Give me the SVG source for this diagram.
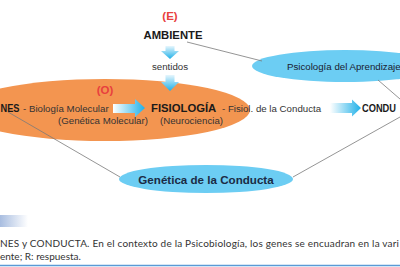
<svg xmlns="http://www.w3.org/2000/svg" width="400" height="267" viewBox="0 0 400 267">
<defs>
<linearGradient id="gd" x1="0" y1="0" x2="0" y2="1">
<stop offset="0" stop-color="#e6f6fd"/>
<stop offset="1" stop-color="#1fb0e8"/>
</linearGradient>
<linearGradient id="gr" x1="0" y1="0" x2="1" y2="0">
<stop offset="0" stop-color="#ffffff"/>
<stop offset="1" stop-color="#1fb0e8"/>
</linearGradient>
<linearGradient id="gbar" x1="0" y1="0" x2="1" y2="0">
<stop offset="0" stop-color="#a8bde0"/>
<stop offset="1" stop-color="#ffffff"/>
</linearGradient>
<style>
text{font-family:"Liberation Sans",Arial,sans-serif;}
.b{font-weight:bold;fill:#1a1a1a;font-size:11.3px;}
.n{fill:#333;font-size:9.7px;}
.red{font-weight:bold;fill:#e8403e;font-size:11.5px;text-anchor:middle;}
.ell{fill:#6ccdf3;}
.cap{font-family:"Lato","Open Sans",sans-serif;fill:#333;font-size:10px;}
.con{stroke:#7a7a7a;stroke-width:0.8;fill:none;}
</style>
</defs>
<rect width="400" height="267" fill="#ffffff"/>

<g id="organismo">
<ellipse cx="105" cy="110" rx="145" ry="31" fill="#f39550"/>
<text class="red" x="105" y="94" font-weight="normal">(O)</text>
</g>

<g id="psicologia">
<ellipse class="ell" cx="345" cy="66" rx="93" ry="16"/>
<text class="n" x="287" y="70" style="fill:#1a2030">Psicología del Aprendizaje</text>
</g>

<g id="genetica">
<ellipse class="ell" cx="206" cy="179" rx="87" ry="14"/>
<text x="206" y="183.5" text-anchor="middle" font-weight="bold" font-size="11.6" fill="#1b2b45">Genética de la Conducta</text>
</g>

<g id="connectors">
<line class="con" x1="187" y1="42" x2="262" y2="61"/>
<line class="con" x1="378" y1="80" x2="400" y2="99"/>
<line class="con" x1="400" y1="117" x2="293" y2="177"/>
<line class="con" x1="8" y1="112" x2="120" y2="177"/>
<path fill="url(#gd)" d="M165.5,46 H174.5 V51 H179 L170,59 L161,51 H165.5 Z"/>
<path fill="url(#gd)" d="M165.5,75 H174.5 V82 H179 L170,91 L161,82 H165.5 Z"/>
<path fill="url(#gr)" d="M113,104 H135 V99 L145,108 L135,117 V113 H113 Z"/>
<path fill="url(#gr)" d="M330,103 H352 V99.5 L361,108 L352,116.5 V113 H330 Z"/>
</g>

<g id="ambiente">
<text class="red" x="170" y="20">(E)</text>
<text class="b" x="173" y="39" text-anchor="middle">AMBIENTE</text>
<text class="n" x="170" y="70" text-anchor="middle">sentidos</text>
</g>

<g id="genes">
<text class="b" x="0.5" y="112" textLength="19" lengthAdjust="spacingAndGlyphs">NES</text>
<text class="n" x="23" y="112">- Biología Molecular</text>
<text class="n" x="58" y="124">(Genética Molecular)</text>
</g>

<g id="fisiologia">
<text class="b" x="151" y="112">FISIOLOGÍA</text>
<text class="n" x="222" y="112">- Fisiol. de la Conducta</text>
<text class="n" x="160" y="124">(Neurociencia)</text>
</g>

<g id="conducta">
<text class="b" x="362" y="112" textLength="34" lengthAdjust="spacingAndGlyphs">CONDU</text>
</g>

<rect x="0" y="215" width="28" height="12" fill="url(#gbar)"/>
<text class="cap" x="0" y="247" textLength="399" lengthAdjust="spacing">NES y CONDUCTA. En el contexto de la Psicobiología, los genes se encuadran en la vari</text>
<text class="cap" x="0" y="260">ente; R: respuesta.</text>
<line x1="0" y1="265.5" x2="400" y2="265.5" stroke="#5a9ad6" stroke-width="1.5"/>
</svg>
